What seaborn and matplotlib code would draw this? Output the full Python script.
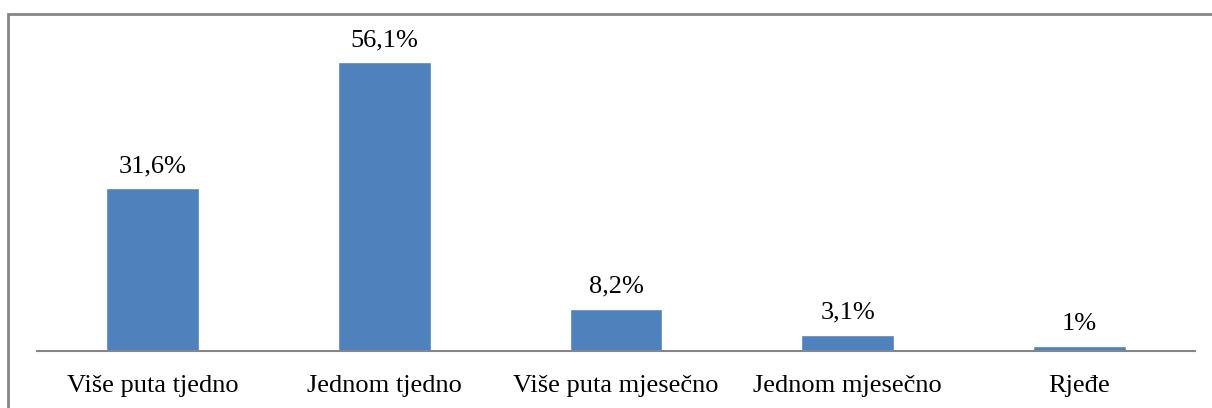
import matplotlib
matplotlib.use("Agg")
import matplotlib.pyplot as plt
import seaborn as sns
import pandas as pd

# ================= DATA =================
categories = ["Više puta tjedno", "Jednom tjedno", "Više puta mjesečno",
              "Jednom mjesečno", "Rjeđe"]
values = [31.6, 56.1, 8.2, 3.1, 1.0]
value_labels = ["31,6%", "56,1%", "8,2%", "3,1%", "1%"]

df = pd.DataFrame({"kategorija": categories, "postotak": values})

# ================= STYLE =================
sns.set_theme(style="white")
plt.rcParams["font.family"] = ["Liberation Serif", "DejaVu Serif"]

fig = plt.figure(figsize=(12.12, 4.08), dpi=100)
ax = fig.add_axes([37 / 1212, 57 / 408, 1158 / 1212, 309 / 408])

sns.barplot(data=df, x="kategorija", y="postotak", color="#4F81BD",
            saturation=1, width=0.4, ax=ax)

for p, lab in zip(ax.patches, value_labels):
    ax.annotate(lab, (p.get_x() + p.get_width() / 2, p.get_height()),
                xytext=(0, 8), textcoords="offset points",
                ha="center", va="bottom", fontsize=19, color="black")

ax.set_ylim(0, 60)
ax.set_xlim(-0.5, 4.5)
ax.set_xlabel("")
ax.set_ylabel("")
ax.set_yticks([])
for s in ["top", "right", "left"]:
    ax.spines[s].set_visible(False)
ax.spines["bottom"].set_color("#868686")
ax.spines["bottom"].set_linewidth(1.5)
ax.tick_params(axis="x", length=0, pad=17, labelsize=19, labelcolor="black")

# outer chart border (left and top visible)
fig.add_artist(plt.Rectangle((7.5 / 1212, -0.1), 1.2, (408 - 13.5) / 408 + 0.1,
                             transform=fig.transFigure, fill=False,
                             edgecolor="#868686", linewidth=2))

fig.savefig("out.png", dpi=100)
